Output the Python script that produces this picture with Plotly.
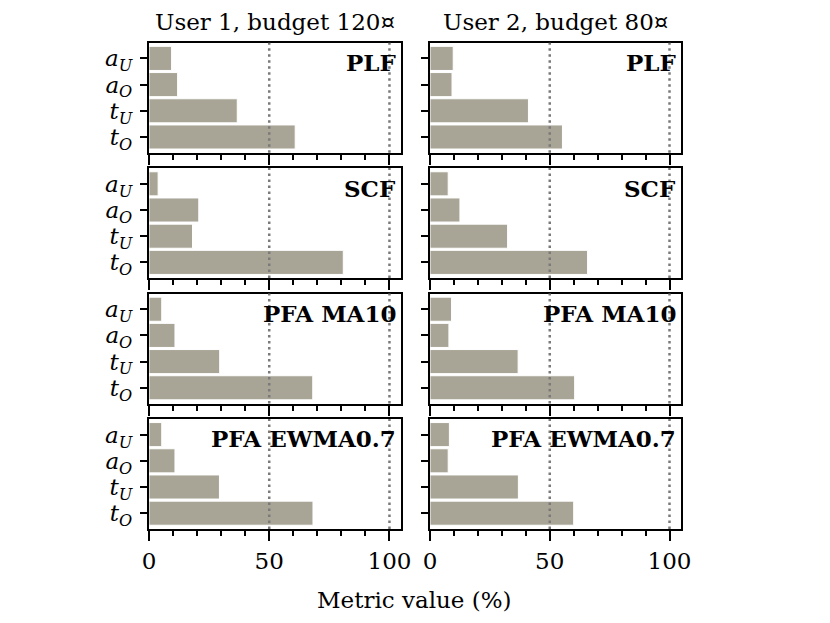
import plotly.graph_objects as go

# ---- data ----
categories = ["a_U", "a_O", "t_U", "t_O"]
cat_labels = ["<i>a<sub>U</sub></i>", "<i>a<sub>O</sub></i>",
              "<i>t<sub>U</sub></i>", "<i>t<sub>O</sub></i>"]
methods = ["PLF", "SCF", "PFA MA10", "PFA EWMA0.7"]
users = ["User 1, budget 120¤", "User 2, budget 80¤"]

user1_PLF = [9.4, 11.9, 36.7, 60.8]
user1_SCF = [3.8, 20.7, 18.1, 80.8]
user1_MA10 = [5.3, 10.8, 29.4, 68.1]
user1_EWMA = [5.3, 10.8, 29.3, 68.2]

user2_PLF = [9.7, 9.2, 41.1, 55.3]
user2_SCF = [7.6, 12.5, 32.4, 65.8]
user2_MA10 = [9.0, 7.9, 36.8, 60.4]
user2_EWMA = [8.1, 7.6, 36.9, 60.0]

values = {
    0: [user1_PLF, user1_SCF, user1_MA10, user1_EWMA],
    1: [user2_PLF, user2_SCF, user2_MA10, user2_EWMA],
}
ref_lines = [50, 100]

# ---- layout geometry (pixels, page coords; page body adds an 8px offset) ----
W, H = 830, 623
OFF = 8
col_x = [(149 - OFF, 401 - OFF), (430 - OFF, 681 - OFF)]
row_top0, row_step, row_h = 42.7 - OFF, 125.4, 110
FONT = "DejaVu Serif"
BAR_COLOR = "#a8a597"

fig = go.Figure()
layout = dict(
    width=W, height=H, margin=dict(l=0, r=0, t=0, b=0, autoexpand=False),
    plot_bgcolor="white", paper_bgcolor="white",
    showlegend=False, font=dict(family=FONT, color="black", size=20),
    bargap=0.08,
)
shapes = []
annotations = []
ypos = [3, 2, 1, 0]  # a_U at top

idx = 0
for r in range(4):
    top = row_top0 + r * row_step
    ydom = [1 - (top + row_h) / H, 1 - top / H]
    for c in range(2):
        idx += 1
        xname = "x" if idx == 1 else f"x{idx}"
        yname = "y" if idx == 1 else f"y{idx}"
        xkey = "xaxis" if idx == 1 else f"xaxis{idx}"
        ykey = "yaxis" if idx == 1 else f"yaxis{idx}"
        vals = values[c][r]
        fig.add_trace(go.Bar(
            x=vals, y=ypos, orientation="h", xaxis=xname, yaxis=yname,
            marker=dict(color=BAR_COLOR, line=dict(color="white", width=1)),
            width=0.92,
        ))
        xd = [col_x[c][0] / W, col_x[c][1] / W]
        layout[xkey] = dict(
            domain=xd, anchor=yname, range=[0, 104.8], automargin=False,
            showgrid=False, zeroline=False,
            showline=True, linecolor="black", linewidth=2.2, mirror=True,
            ticks="outside", ticklen=10, tickwidth=1.5, tickcolor="black",
            tickvals=[0, 50, 100], ticktext=["0", "50", "100"],
            showticklabels=(r == 3), tickfont=dict(size=23, family=FONT),
            ticklabelstandoff=0,
            minor=dict(dtick=10, tick0=0, ticks="outside", ticklen=5,
                       tickwidth=1.5, tickcolor="black", showgrid=False),
        )
        layout[ykey] = dict(
            domain=ydom, anchor=xname, range=[-0.6, 3.6], automargin=False,
            showgrid=False, zeroline=False,
            showline=True, linecolor="black", linewidth=2.2, mirror=True,
            ticks="outside", ticklen=7, tickwidth=1.5, tickcolor="black",
            tickvals=ypos, ticktext=cat_labels,
            showticklabels=(c == 0), tickfont=dict(size=23, family=FONT),
            ticklabelstandoff=3,
        )
        for v in ref_lines:
            shapes.append(dict(
                type="line", xref=xname, yref=f"{yname} domain",
                x0=v, x1=v, y0=0, y1=1, layer="above",
                line=dict(color="#7a7a7a", width=2.5, dash="2.5px,3.5px"),
            ))
        annotations.append(dict(
            text=f"<b>{methods[r]}</b>", xref="paper", yref="paper",
            x=(col_x[c][1] - 3) / W, y=1 - (top + 20) / H,
            xanchor="right", yanchor="middle", showarrow=False,
            font=dict(family=FONT, size=23, color="black"),
        ))

for c in range(2):
    annotations.append(dict(
        text=users[c], xref="paper", yref="paper",
        x=(col_x[c][0] + col_x[c][1]) / 2 / W, y=1.0,
        xanchor="center", yanchor="top", showarrow=False, borderpad=0,
        font=dict(family=FONT, size=23, color="black"),
    ))

annotations.append(dict(
    text="Metric value (%)", xref="paper", yref="paper",
    x=(414 - OFF) / W, y=1 - (600 - OFF) / H, xanchor="center", yanchor="middle",
    showarrow=False, font=dict(family=FONT, size=23, color="black"),
))

layout["shapes"] = shapes
layout["annotations"] = annotations
fig.update_layout(**layout)
fig.write_html("out.html")
